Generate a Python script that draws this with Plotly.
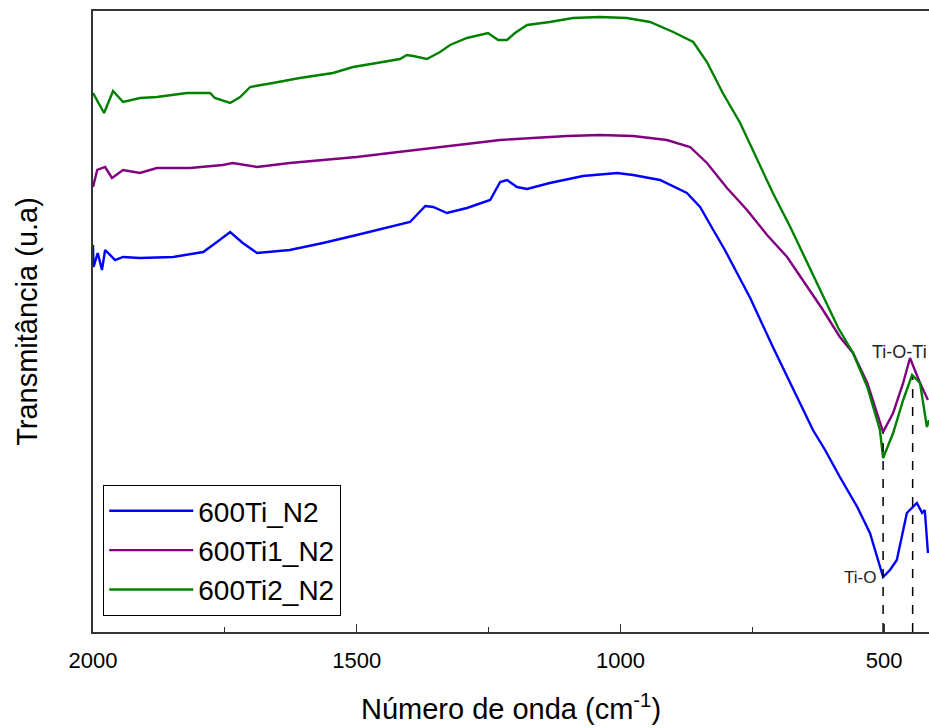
import plotly.graph_objects as go

# ---- data (transmittance in arbitrary units) ----
wn_ti2 = [2000, 1979, 1962, 1943, 1911, 1879, 1822, 1778, 1769, 1740, 1721, 1702, 1659, 1608,
          1545, 1507, 1462, 1418, 1405, 1393, 1367, 1342, 1323, 1291, 1251, 1232, 1215, 1200,
          1177, 1134, 1090, 1039, 988, 944, 900, 862, 836, 806, 773, 741, 711, 678, 646, 616,
          587, 559, 532, 508, 502, 483, 464, 447, 432, 419, 415]
t_ti2 = [53.9, 51.9, 54.1, 53.0, 53.4, 53.5, 53.9, 53.9, 53.4, 52.9, 53.5, 54.5, 54.9, 55.4,
         55.9, 56.5, 56.9, 57.3, 57.7, 57.6, 57.3, 58.0, 58.7, 59.4, 59.9, 59.2, 59.2, 59.9,
         60.7, 61.0, 61.4, 61.5, 61.4, 61.0, 60.0, 59.0, 57.0, 53.9, 50.9, 47.2, 43.9, 40.5,
         36.9, 33.5, 30.4, 27.9, 24.5, 20.2, 17.4, 19.9, 23.2, 25.7, 24.9, 20.5, 21.2]

wn_ti1 = [2000, 1992, 1977, 1964, 1943, 1911, 1879, 1816, 1754, 1735, 1689, 1627, 1564, 1500,
          1437, 1355, 1291, 1228, 1166, 1101, 1039, 976, 912, 868, 836, 798, 760, 722, 684,
          646, 616, 584, 559, 532, 514, 502, 483, 464, 451, 432, 417]
t_ti1 = [44.5, 46.2, 46.5, 45.4, 46.2, 45.9, 46.4, 46.4, 46.7, 46.9, 46.5, 46.9, 47.2, 47.5,
         47.9, 48.4, 48.8, 49.2, 49.4, 49.6, 49.7, 49.6, 49.2, 48.5, 46.9, 44.4, 42.2, 39.7,
         37.5, 34.5, 32.2, 29.5, 27.9, 24.9, 21.9, 20.0, 21.9, 24.9, 27.4, 24.9, 23.2]

wn_ti = [2000, 1999, 1991, 1983, 1977, 1958, 1943, 1911, 1848, 1791, 1765, 1740, 1716, 1689,
         1627, 1564, 1500, 1437, 1399, 1370, 1355, 1329, 1291, 1247, 1228, 1215, 1196, 1177,
         1134, 1071, 1006, 976, 925, 874, 849, 824, 802, 779, 754, 711, 673, 635, 612, 584,
         551, 527, 502, 489, 476, 457, 438, 428, 423, 417]
t_ti = [38.7, 36.5, 37.9, 36.2, 38.2, 37.2, 37.5, 37.4, 37.5, 38.0, 39.0, 40.0, 38.9, 37.9,
        38.2, 38.9, 39.7, 40.5, 41.0, 42.6, 42.5, 41.9, 42.4, 43.2, 45.0, 45.2, 44.5, 44.3,
        44.9, 45.6, 45.9, 45.7, 45.2, 43.9, 42.5, 40.2, 38.2, 35.9, 33.4, 28.5, 24.3, 20.2,
        18.2, 15.5, 12.5, 9.9, 5.5, 6.2, 7.2, 11.9, 12.9, 11.9, 12.2, 7.9]

series_names = ["600Ti_N2", "600Ti1_N2", "600Ti2_N2"]
series_colors = ["#0000FF", "#800080", "#008000"]

ti_o_wn = 502       # Ti-O band
ti_o_ti_wn = 446    # Ti-O-Ti band
ti_o_top = 20.0
ti_o_ti_top = 25.5
blue_min = 5.5
ti_o_ti_label_y = 28.0

x_range = [2000, 415]
y_range = [0, 62.1]
x_ticks = [2000, 1500, 1000, 500]

FONT = "Liberation Sans, Arial, sans-serif"

fig = go.Figure()
for name, color, xs, ys in zip(series_names, series_colors,
                               [wn_ti, wn_ti1, wn_ti2], [t_ti, t_ti1, t_ti2]):
    fig.add_trace(go.Scatter(x=xs, y=ys, mode="lines", name=name,
                             line=dict(color=color, width=2.4)))

# dashed guide lines
for wn, top in [(ti_o_wn, ti_o_top), (ti_o_ti_wn, ti_o_ti_top)]:
    fig.add_shape(type="line", xref="x", yref="y", x0=wn, x1=wn, y0=0, y1=top,
                  line=dict(color="black", width=1.5, dash="dash"))

fig.add_annotation(x=ti_o_wn, y=blue_min, xref="x", yref="y", text="Ti-O",
                   showarrow=False, xanchor="right", yanchor="middle", xshift=-5,
                   font=dict(family=FONT, size=17, color="#222"))
fig.add_annotation(x=ti_o_ti_wn, y=ti_o_ti_label_y, xref="x", yref="y", text="Ti-O-Ti",
                   showarrow=False, xanchor="right", yanchor="middle", xshift=16,
                   font=dict(family=FONT, size=18, color="#222"))

fig.update_layout(
    width=929, height=728,
    margin=dict(l=93, r=0, t=11, b=96, pad=0),
    plot_bgcolor="white", paper_bgcolor="white",
    font=dict(family=FONT, color="black"),
    showlegend=True,
    legend=dict(x=0.012, y=0.237, xanchor="left", yanchor="top",
                bordercolor="black", borderwidth=1.2, bgcolor="white",
                font=dict(family=FONT, size=28, color="black"),
                tracegroupgap=0, itemwidth=84),
    xaxis=dict(range=x_range, tickvals=x_ticks, ticks="inside", ticklen=8,
               tickwidth=1.2, tickcolor="#333", automargin=False,
               minor=dict(dtick=250, ticks="inside", ticklen=5, tickcolor="#333"),
               showline=True, linecolor="#333", linewidth=2, mirror=True,
               showgrid=False, zeroline=False, ticklabelstandoff=8,
               tickfont=dict(family=FONT, size=22, color="black"),
               title=dict(text="Número de onda (cm<sup>-1</sup>)",
                          font=dict(family=FONT, size=29, color="black"),
                          standoff=26)),
    yaxis=dict(range=y_range, showticklabels=False, ticks="", automargin=False,
               showline=True, linecolor="#333", linewidth=2, mirror=False,
               showgrid=False, zeroline=False,
               title=dict(text="Transmitância (u.a)",
                          font=dict(family=FONT, size=29, color="black"),
                          standoff=45)),
)

fig.write_html("out.html", config={"displayModeBar": False},
               post_script="document.body.style.margin='0';document.body.style.overflow='hidden';")
